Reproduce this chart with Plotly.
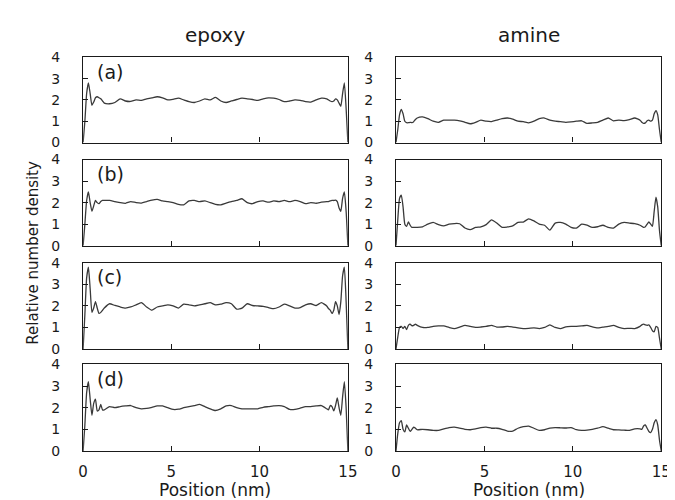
import plotly.graph_objects as go

# Position grid (nm): fine near the walls, coarser in the middle
x_left = [0, 0.1, 0.2, 0.3, 0.4, 0.5, 0.6, 0.7, 0.8, 0.9, 1.0, 1.1, 1.2]
x_mid = [1.5, 1.8, 2.1, 2.4, 2.7, 3.0, 3.3, 3.6, 3.9, 4.2, 4.5, 4.8, 5.1, 5.4,
         5.7, 6.0, 6.3, 6.6, 6.9, 7.2, 7.5, 7.8, 8.1, 8.4, 8.7, 9.0, 9.3, 9.6,
         9.9, 10.2, 10.5, 10.8, 11.1, 11.4, 11.7, 12.0, 12.3, 12.6, 12.9, 13.2, 13.5]
x_right = [13.8, 13.9, 14.0, 14.1, 14.2, 14.3, 14.4, 14.5, 14.6, 14.7, 14.8, 14.9, 15.0]
position = x_left + x_mid + x_right

# (a)
epoxy_a = ([0, 1.0, 2.3, 2.8, 2.3, 1.75, 1.9, 2.1, 2.15, 2.1, 2.05, 1.95, 1.85] +
           [1.82, 1.88, 2.05, 1.95, 1.93, 2.0, 1.98, 2.05, 2.1, 2.15, 2.1, 2.0, 2.03, 2.08,
            2.0, 1.92, 1.88, 1.95, 2.05, 2.0, 2.12, 1.95, 1.88, 1.95, 2.02, 2.08, 2.05, 2.02,
            1.98, 2.05, 2.1, 2.08, 2.02, 1.92, 1.95, 2.0, 1.98, 1.92, 1.9, 2.0, 2.08] +
           [2.05, 2.0, 1.95, 1.92, 1.95, 2.05, 2.0, 1.85, 1.7, 2.3, 2.8, 1.6, 0])
amine_a = ([0, 0.6, 1.3, 1.55, 1.35, 1.0, 0.93, 0.93, 0.95, 0.93, 0.98, 1.08, 1.15] +
           [1.2, 1.12, 1.0, 0.95, 1.05, 1.05, 1.05, 1.02, 0.95, 0.88, 0.95, 1.05, 1.0, 0.98,
            1.05, 1.12, 1.15, 1.1, 1.0, 0.98, 0.92, 1.0, 1.12, 1.15, 1.05, 1.0, 0.98, 0.95,
            0.97, 1.0, 1.02, 0.9, 0.92, 0.95, 1.05, 1.15, 1.02, 1.05, 1.03, 1.08, 1.15] +
           [1.05, 0.95, 0.9, 0.92, 1.02, 1.05, 1.0, 1.05, 1.35, 1.5, 1.3, 0.6, 0])
# (b)
epoxy_b = ([0, 1.0, 2.1, 2.5, 2.0, 1.6, 1.85, 2.1, 2.0, 1.95, 2.05, 2.1, 2.1] +
           [2.1, 2.05, 2.0, 1.97, 2.05, 2.0, 1.98, 2.05, 2.12, 2.15, 2.08, 2.05, 2.0, 1.92,
            1.9, 2.08, 2.1, 2.05, 2.08, 2.0, 1.92, 1.9, 1.98, 2.05, 2.1, 2.18, 2.0, 1.95,
            2.05, 2.08, 2.02, 2.08, 2.05, 2.1, 2.05, 2.1, 2.05, 1.95, 2.0, 1.97, 2.02] +
           [2.05, 2.05, 2.08, 2.1, 2.1, 2.12, 2.05, 1.75, 1.6, 2.2, 2.5, 1.6, 0])
amine_b = ([0, 1.2, 2.2, 2.35, 1.8, 1.0, 0.9, 1.1, 0.95, 0.85, 0.85, 0.85, 0.85] +
           [0.88, 1.0, 1.08, 0.98, 0.92, 1.0, 1.03, 1.02, 0.82, 0.75, 0.85, 0.88, 0.98, 1.2,
            1.05, 0.85, 0.87, 0.92, 1.08, 1.1, 1.25, 1.15, 1.0, 0.95, 0.72, 1.05, 1.08, 1.0,
            0.85, 0.82, 1.0, 0.95, 0.85, 0.88, 0.95, 0.85, 0.82, 1.0, 1.08, 1.05, 1.02] +
           [0.95, 0.9, 0.85, 0.88, 1.0, 1.1, 1.0, 0.9, 1.6, 2.25, 1.8, 0.7, 0])
# (c)
epoxy_c = ([0, 1.6, 3.3, 3.8, 2.8, 1.7, 1.9, 2.2, 1.9, 1.65, 1.7, 1.8, 1.9] +
           [2.1, 2.02, 1.95, 1.9, 1.95, 2.05, 2.15, 1.95, 1.8, 1.95, 2.0, 2.05, 2.0, 1.9,
            2.08, 2.05, 2.0, 2.05, 2.1, 2.15, 2.05, 2.08, 2.15, 2.1, 1.85, 1.9, 2.1, 2.02,
            2.0, 1.98, 1.92, 1.87, 1.95, 2.08, 2.0, 1.9, 1.92, 2.05, 2.1, 2.02, 2.15] +
           [2.0, 1.88, 1.8, 1.65, 1.8, 2.2, 2.0, 1.6, 2.2, 3.4, 3.8, 2.2, 0])
amine_c = ([0, 0.55, 1.0, 1.05, 0.95, 1.05, 0.9, 1.1, 1.15, 1.08, 1.1, 1.15, 1.1] +
           [1.0, 1.0, 1.05, 1.07, 1.07, 1.0, 0.95, 1.02, 1.1, 1.05, 1.0, 1.02, 1.05, 1.1,
            1.02, 1.02, 1.05, 1.02, 0.98, 0.95, 0.96, 0.98, 0.95, 1.0, 1.12, 1.0, 0.95, 1.03,
            1.05, 1.05, 1.07, 1.1, 1.03, 0.98, 1.02, 1.05, 1.1, 1.0, 0.95, 0.96, 0.95] +
           [1.05, 1.12, 1.15, 1.12, 1.1, 1.12, 1.0, 0.85, 0.8, 1.05, 1.0, 0.5, 0])
# (d)
epoxy_d = ([0, 1.2, 2.7, 3.2, 2.4, 1.65, 2.2, 2.4, 1.85, 1.9, 2.15, 1.9, 1.9] +
           [2.05, 2.0, 2.05, 2.08, 2.1, 2.0, 1.95, 1.97, 2.02, 2.08, 2.08, 2.0, 1.92, 1.93,
            2.0, 2.05, 2.1, 2.15, 2.05, 1.95, 1.87, 1.95, 2.08, 2.1, 2.0, 1.95, 1.95, 1.95,
            1.95, 2.02, 2.05, 2.08, 2.1, 2.05, 1.92, 1.92, 1.98, 2.05, 2.05, 2.08, 2.1] +
           [1.95, 1.9, 2.1, 2.05, 1.85, 2.1, 2.45, 2.0, 1.65, 2.5, 3.2, 2.0, 0])
amine_d = ([0, 0.8, 1.3, 1.4, 1.0, 0.88, 1.2, 1.05, 0.9, 1.0, 1.1, 1.05, 0.98] +
           [1.0, 0.98, 0.95, 0.95, 1.02, 1.08, 1.1, 1.05, 1.0, 0.98, 1.02, 1.08, 1.1, 1.05,
            1.05, 1.0, 0.92, 0.92, 1.05, 1.12, 1.15, 1.05, 0.95, 0.98, 1.05, 1.08, 1.07, 1.06,
            1.08, 0.98, 0.95, 0.96, 1.0, 1.05, 1.12, 1.05, 0.98, 0.97, 0.96, 0.95, 1.02] +
           [1.02, 1.0, 1.15, 1.2, 1.05, 0.9, 0.85, 1.0, 1.3, 1.45, 1.2, 0.5, 0])

panel_labels = ["(a)", "(b)", "(c)", "(d)"]
column_titles = ["epoxy", "amine"]
series = [[epoxy_a, amine_a], [epoxy_b, amine_b], [epoxy_c, amine_c], [epoxy_d, amine_d]]
x_ticks = [0, 5, 10, 15]
y_ticks = [0, 1, 2, 3, 4]

W, H = 675, 500
col_px = [(71.7, 342.5), (391.7, 663.0)]
row_px = [(42.7, 130.7), (148.3, 237.3), (255.0, 344.0), (360.0, 449.3)]

FONT = "DejaVu Sans"
INK = "#1a1a1a"
fig = go.Figure()
layout = dict(width=W, height=H, margin=dict(l=0, r=0, t=0, b=0),
              paper_bgcolor="white", plot_bgcolor="white", showlegend=False,
              font=dict(family=FONT, size=14, color=INK))
annotations = []
for r in range(4):
    for c in range(2):
        i = r * 2 + c + 1
        xs = "" if i == 1 else str(i)
        fig.add_trace(go.Scatter(x=position, y=series[r][c], mode="lines",
                                 line=dict(color="#3a3a3a", width=1.3, shape="spline", smoothing=0.5),
                                 xaxis="x" + xs, yaxis="y" + xs, hoverinfo="skip"))
        x0, x1 = col_px[c]
        y0, y1 = row_px[r]
        layout["xaxis" + xs] = dict(
            domain=[x0 / W, x1 / W], anchor="y" + xs, range=[0, 15],
            tickvals=x_ticks, showticklabels=(r == 3), ticks="inside", ticklen=5,
            tickcolor=INK, showline=True, linecolor=INK, linewidth=1.2, mirror=True,
            showgrid=False, zeroline=False, ticklabelstandoff=7,
            tickfont=dict(family=FONT, size=15, color=INK))
        layout["yaxis" + xs] = dict(
            domain=[1 - y1 / H, 1 - y0 / H], anchor="x" + xs, range=[0, 4],
            tickvals=y_ticks, ticks="inside", ticklen=5, tickcolor=INK,
            showline=True, linecolor=INK, linewidth=1.2, mirror=True,
            showgrid=False, zeroline=False, ticklabelstandoff=19,
            tickfont=dict(family=FONT, size=14, color=INK))
    annotations.append(dict(text=panel_labels[r], x=84 / W, y=1 - (row_px[r][0] + 15) / H,
                            xref="paper", yref="paper", xanchor="left", yanchor="middle",
                            showarrow=False, font=dict(family=FONT, size=19, color=INK)))

for c in range(2):
    cx = (col_px[c][0] + col_px[c][1]) / 2 / W
    annotations.append(dict(text=column_titles[c], x=cx, y=1 - 20 / H, xref="paper", yref="paper",
                            xanchor="center", yanchor="middle", showarrow=False,
                            font=dict(family=FONT, size=20, color=INK)))
    annotations.append(dict(text="Position (nm)", x=cx, y=1 - 490 / H, xref="paper", yref="paper",
                            xanchor="center", yanchor="middle", showarrow=False,
                            font=dict(family=FONT, size=17, color=INK)))

annotations.append(dict(text="Relative number density", x=21 / W, y=1 - 245 / H,
                        xref="paper", yref="paper", xanchor="center", yanchor="middle",
                        textangle=-90, showarrow=False,
                        font=dict(family=FONT, size=15, color=INK)))
layout["annotations"] = annotations
fig.update_layout(**layout)
fig.write_html("out.html")
